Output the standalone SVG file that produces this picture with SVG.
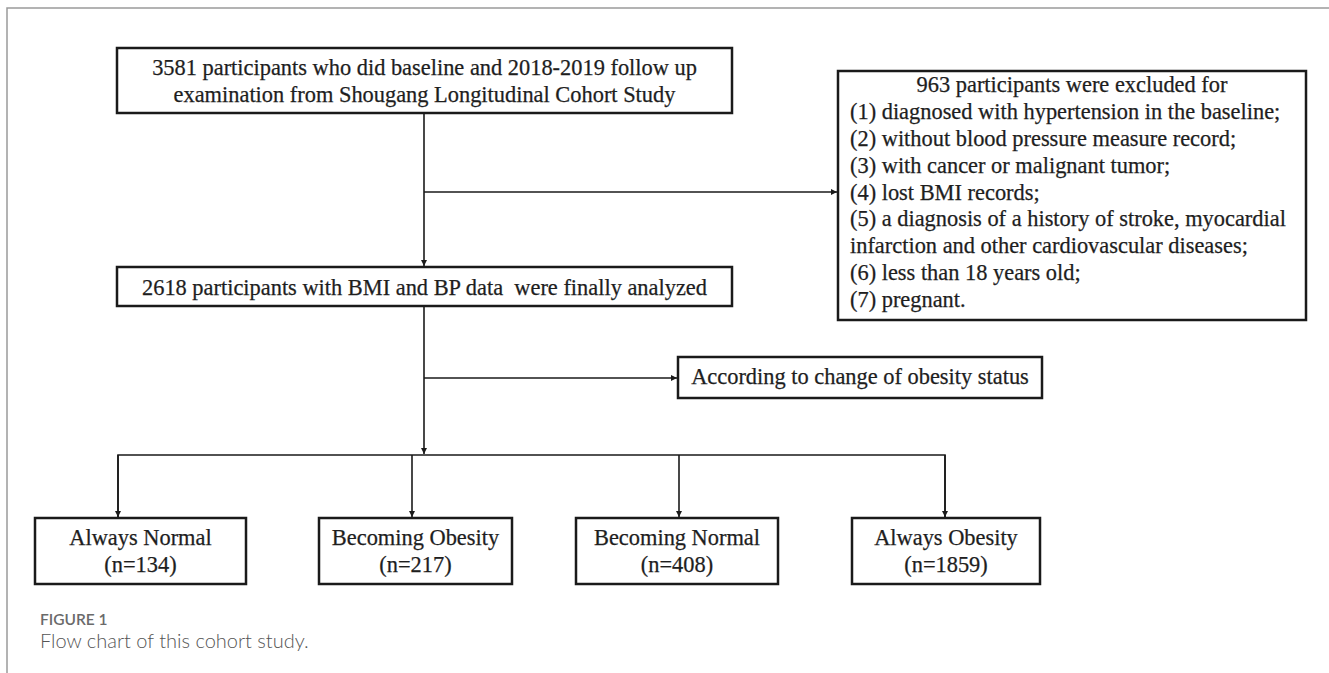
<svg xmlns="http://www.w3.org/2000/svg" width="1329" height="673" viewBox="0 0 1329 673">
<style>
.box{fill:#fff;stroke:#1a1a1a;stroke-width:2.5}
.t{font-family:"Liberation Serif","Times New Roman",serif;font-size:22.4px;fill:#1e1e1e;stroke:#1e1e1e;stroke-width:0.25}
.c{text-anchor:middle}
.ln{fill:none;stroke:#1a1a1a;stroke-width:1.6}
.frame{fill:none;stroke:#9a9a9a;stroke-width:1.5}
.cap1{font-family:Lato,"Open Sans",sans-serif;font-size:15.5px;font-weight:600;fill:#6a6a6a}
.cap2{font-family:Lato,"Open Sans",sans-serif;font-size:20px;font-weight:300;fill:#555}
</style>
<defs>
<marker id="ah" viewBox="0 0 10 10" refX="10" refY="5" markerWidth="6" markerHeight="6" markerUnits="userSpaceOnUse" orient="auto">
<path d="M0,0 L10,5 L0,10 z" fill="#1a1a1a"/>
</marker>
</defs>
<rect width="1329" height="673" fill="#fff"/>
<path class="frame" d="M7,673 V8 H1329"/>

<g id="connectors">
<path class="ln" d="M424,114 V266" marker-end="url(#ah)"/>
<path class="ln" d="M424,192 H837" marker-end="url(#ah)"/>
<path class="ln" d="M424,307 V454" marker-end="url(#ah)"/>
<path class="ln" d="M424,378 H677" marker-end="url(#ah)"/>
<path class="ln" d="M118,517 V455 H945 V517"/>
<path class="ln" d="M118,455 V517" marker-end="url(#ah)"/>
<path class="ln" d="M412,455 V517" marker-end="url(#ah)"/>
<path class="ln" d="M679,455 V517" marker-end="url(#ah)"/>
<path class="ln" d="M945,455 V517" marker-end="url(#ah)"/>
</g>

<g id="node-start">
<rect class="box" x="117" y="48" width="615" height="65"/>
<text class="t c" x="424.5" y="75">3581 participants who did baseline and 2018-2019 follow up</text>
<text class="t c" x="424.5" y="102">examination from Shougang Longitudinal Cohort Study</text>
</g>

<g id="node-excluded">
<rect class="box" x="838" y="71" width="468" height="249"/>
<text class="t c" x="1072" y="92">963 participants were excluded for</text>
<text class="t" x="850" y="119">(1) diagnosed with hypertension in the baseline;</text>
<text class="t" x="850" y="146">(2) without blood pressure measure record;</text>
<text class="t" x="850" y="173">(3) with cancer or malignant tumor;</text>
<text class="t" x="850" y="200">(4) lost BMI records;</text>
<text class="t" x="850" y="226">(5) a diagnosis of a history of stroke, myocardial</text>
<text class="t" x="850" y="253">infarction and other cardiovascular diseases;</text>
<text class="t" x="850" y="280">(6) less than 18 years old;</text>
<text class="t" x="850" y="307">(7) pregnant.</text>
</g>

<g id="node-analyzed">
<rect class="box" x="117" y="267" width="615" height="39"/>
<text class="t c" x="424.5" y="295" xml:space="preserve">2618 participants with BMI and BP data  were finally analyzed</text>
</g>

<g id="node-according">
<rect class="box" x="678" y="357" width="364" height="41"/>
<text class="t c" x="860" y="384">According to change of obesity status</text>
</g>

<g id="node-always-normal">
<rect class="box" x="35" y="518" width="211" height="66"/>
<text class="t c" x="140.5" y="545">Always Normal</text>
<text class="t c" x="140.5" y="572">(n=134)</text>
</g>

<g id="node-becoming-obesity">
<rect class="box" x="319" y="518" width="193" height="66"/>
<text class="t c" x="415.5" y="545">Becoming Obesity</text>
<text class="t c" x="415.5" y="572">(n=217)</text>
</g>

<g id="node-becoming-normal">
<rect class="box" x="576" y="518" width="202" height="66"/>
<text class="t c" x="677" y="545">Becoming Normal</text>
<text class="t c" x="677" y="572">(n=408)</text>
</g>

<g id="node-always-obesity">
<rect class="box" x="852" y="518" width="188" height="66"/>
<text class="t c" x="946" y="545">Always Obesity</text>
<text class="t c" x="946" y="572">(n=1859)</text>
</g>

<text class="cap1" x="40" y="625">FIGURE 1</text>
<text class="cap2" x="40" y="648">Flow chart of this cohort study.</text>
</svg>
